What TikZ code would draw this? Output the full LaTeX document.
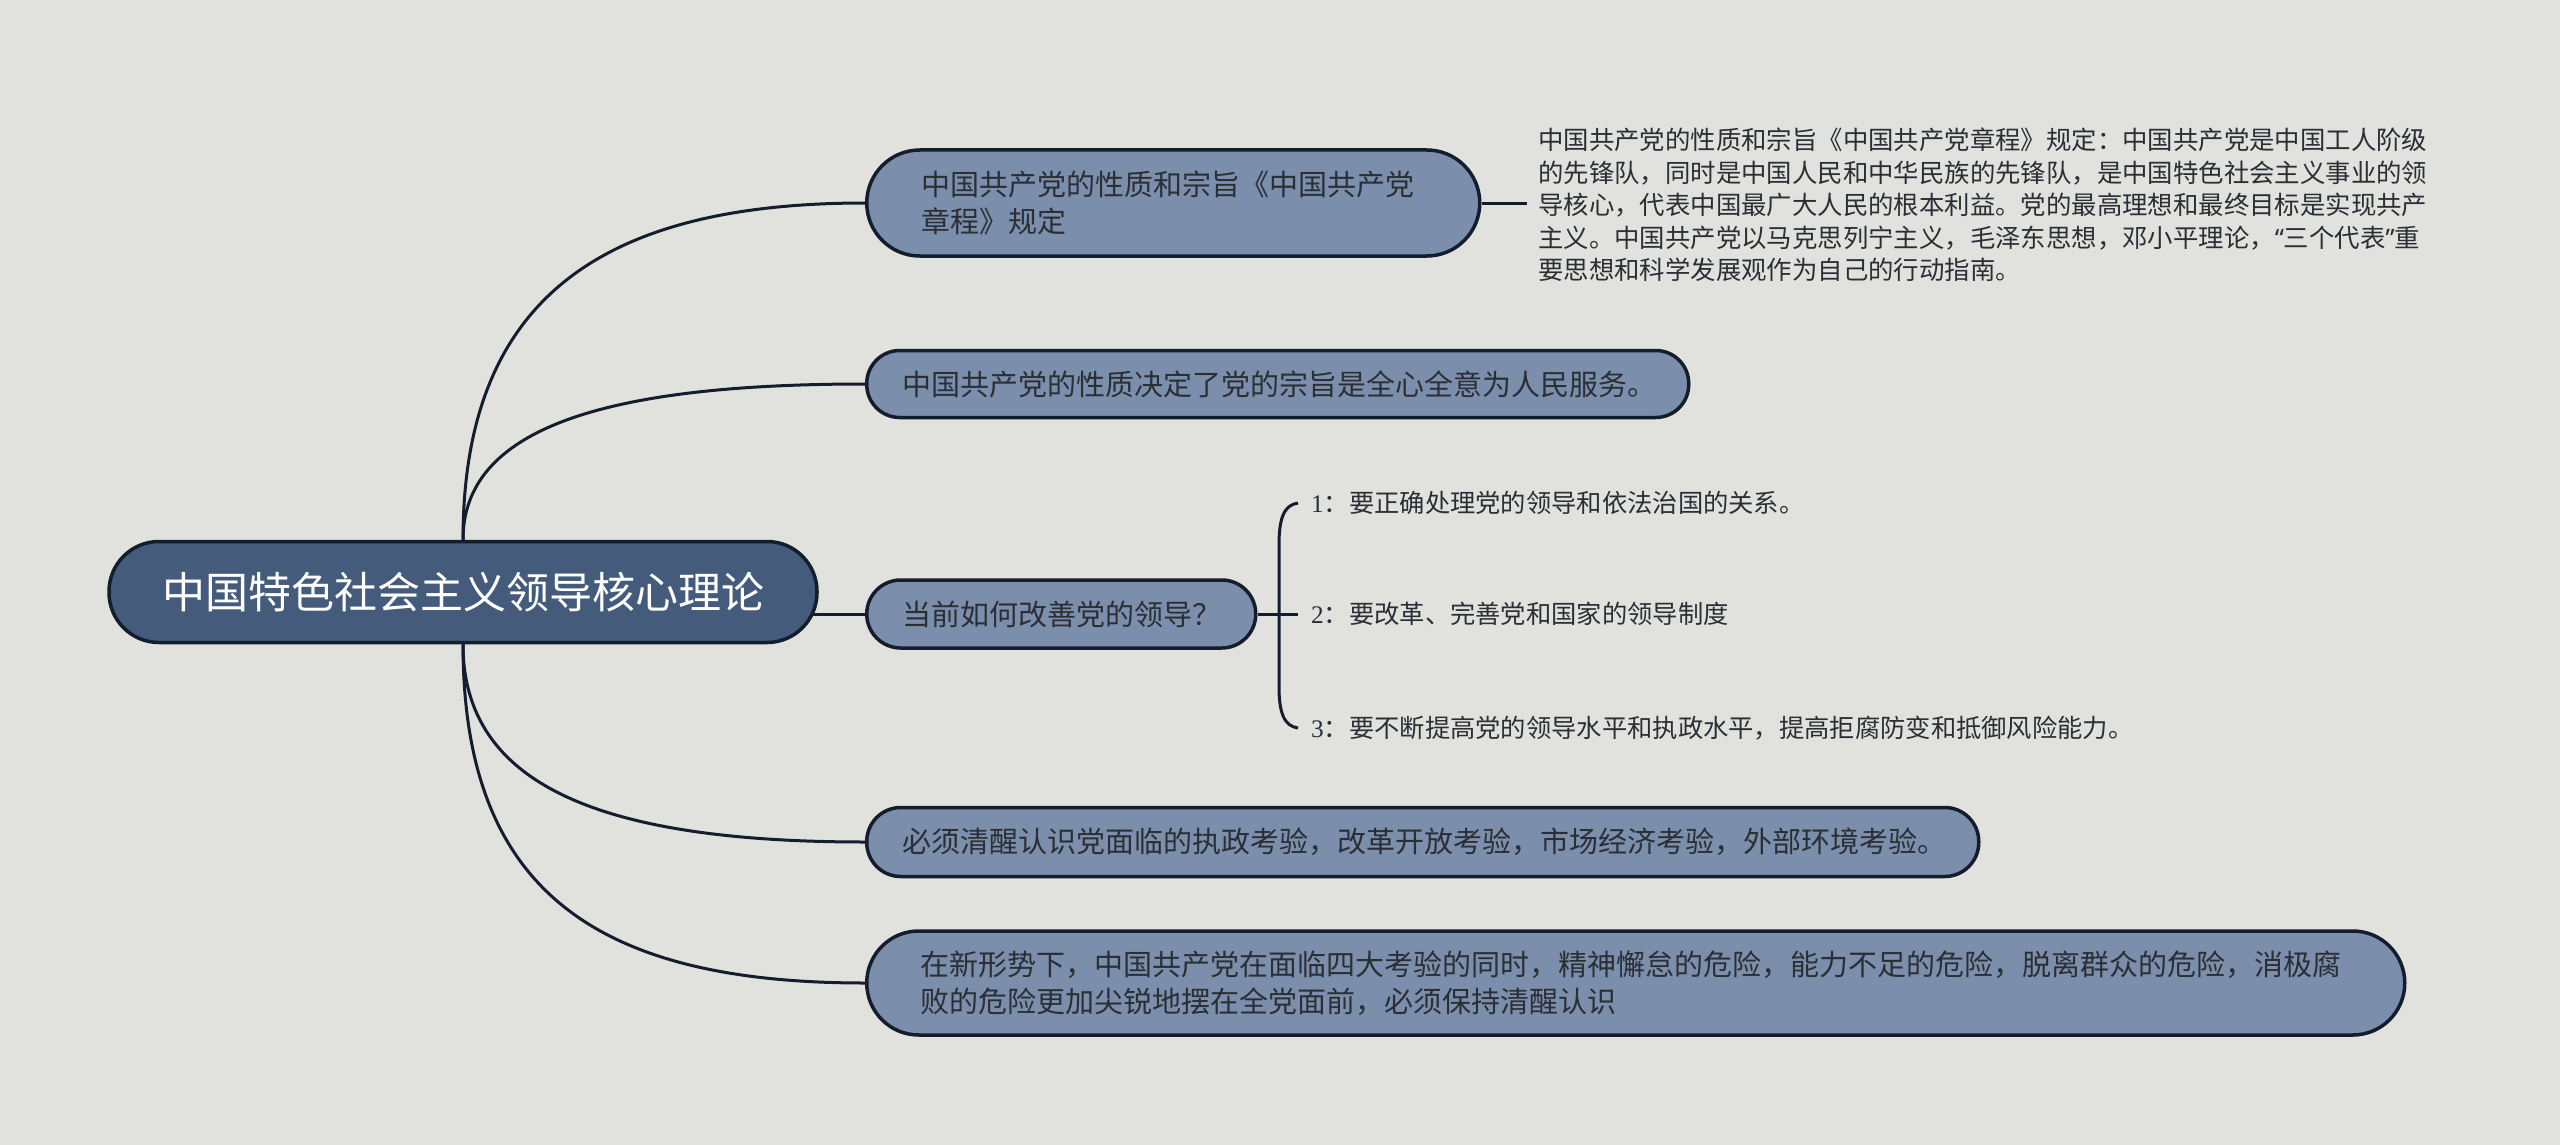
\documentclass[tikz,border=0pt]{standalone}
\usepackage{fontspec}
\setmainfont{Noto Sans CJK SC}
\newfontfamily\numfont{Liberation Serif}
\newfontfamily\latfont{Noto Sans}
\usetikzlibrary{backgrounds,calc}
\definecolor{bgc}{HTML}{E1E2DD}
\definecolor{edgec}{HTML}{141D2E}
\definecolor{rootfill}{HTML}{445B7B}
\definecolor{nodefill}{HTML}{7B8EAB}
\definecolor{txtc}{HTML}{2A2E35}
\tikzset{
  rootbox/.style={draw=edgec, line width=3.5pt, fill=rootfill, rounded corners=50pt,
    minimum width=708pt, minimum height=101pt, text=white, inner sep=0pt,
    font=\fontsize{43}{50}\selectfont},
  branch/.style={draw=edgec, line width=3.5pt, fill=nodefill, anchor=west, align=left,
    text=txtc, inner ysep=0pt, font=\fontsize{29}{37.5}\selectfont},
  detail/.style={anchor=west, align=left, text=txtc, inner ysep=0pt, inner xsep=11pt,
    font=\fontsize{25.4}{32.5}\selectfont},
  leaf/.style={anchor=west, text=txtc, inner ysep=0pt, inner xsep=13pt,
    font=\fontsize{25.3}{30}\selectfont},
  conn/.style={draw=edgec, line width=3pt},
}
\begin{document}
\begin{tikzpicture}[x=1pt,y=-1pt]
\useasboundingbox (0,0) rectangle (2560,1145);

\node[rootbox] (root) at (463,592) {中国特色社会主义领导核心理论};

\node[branch, minimum width=613pt, minimum height=106pt, rounded corners=53pt,
  inner xsep=55pt, text width=503pt] (n1) at (865,203)
  {中国共产党的性质和宗旨《中国共产党\\章程》规定};
\node[branch, minimum width=822pt, minimum height=67pt, rounded corners=33pt,
  inner xsep=36pt, text width=750pt] (n2) at (865,384)
  {中国共产党的性质决定了党的宗旨是全心全意为人民服务。};
\node[branch, minimum width=389pt, minimum height=68pt, rounded corners=34pt,
  inner xsep=36pt, text width=317pt] (n3) at (865,614)
  {当前如何改善党的领导？};
\node[branch, minimum width=1112pt, minimum height=69pt, rounded corners=34pt,
  inner xsep=36pt, text width=1040pt] (n4) at (865,842)
  {必须清醒认识党面临的执政考验，改革开放考验，市场经济考验，外部环境考验。};
\node[branch, minimum width=1538pt, minimum height=104pt, rounded corners=52pt,
  inner xsep=54pt, text width=1430pt] (n5) at (865,983)
  {在新形势下，中国共产党在面临四大考验的同时，精神懈怠的危险，能力不足的危险，脱离群众的危险，消极腐\\败的危险更加尖锐地摆在全党面前，必须保持清醒认识};

\node[detail] (d1) at (1527,205)
  {中国共产党的性质和宗旨《中国共产党章程》规定：中国共产党是中国工人阶级\\
   的先锋队，同时是中国人民和中华民族的先锋队，是中国特色社会主义事业的领\\
   导核心，代表中国最广大人民的根本利益。党的最高理想和最终目标是实现共产\\
   主义。中国共产党以马克思列宁主义，毛泽东思想，邓小平理论，{\latfont “}三个代表{\latfont ”}重\\
   要思想和科学发展观作为自己的行动指南。};

\node[leaf] (c1) at (1298,503) {{\numfont 1}：要正确处理党的领导和依法治国的关系。};
\node[leaf] (c2) at (1298,614) {{\numfont 2}：要改革、完善党和国家的领导制度};
\node[leaf] (c3) at (1298,728) {{\numfont 3}：要不断提高党的领导水平和执政水平，提高拒腐防变和抵御风险能力。};

\begin{pgfonlayer}{background}
\fill[bgc] (0,0) rectangle (2560,1145);
\draw[conn] (root.north) .. controls (463,300) and (600,203) .. (n1.west);
\draw[conn] (root.north) .. controls (463,430) and (600,384) .. (n2.west);
\draw[conn] (root.center |- n3.west) -- (n3.west);
\draw[conn] (root.south) .. controls (463,785) and (600,842) .. (n4.west);
\draw[conn] (root.south) .. controls (463,890) and (595,983) .. (n5.west);
\draw[conn] (n1.east) -- (n1.east -| d1.west);
\draw[conn] (n3.east) -- (c2.west);
\draw[conn] (c1.west) .. controls (1284,505) and (1279,518) .. (1279,545)
  -- (1279,686) .. controls (1279,713) and (1284,726) .. (c3.west);
\end{pgfonlayer}
\end{tikzpicture}
\end{document}
